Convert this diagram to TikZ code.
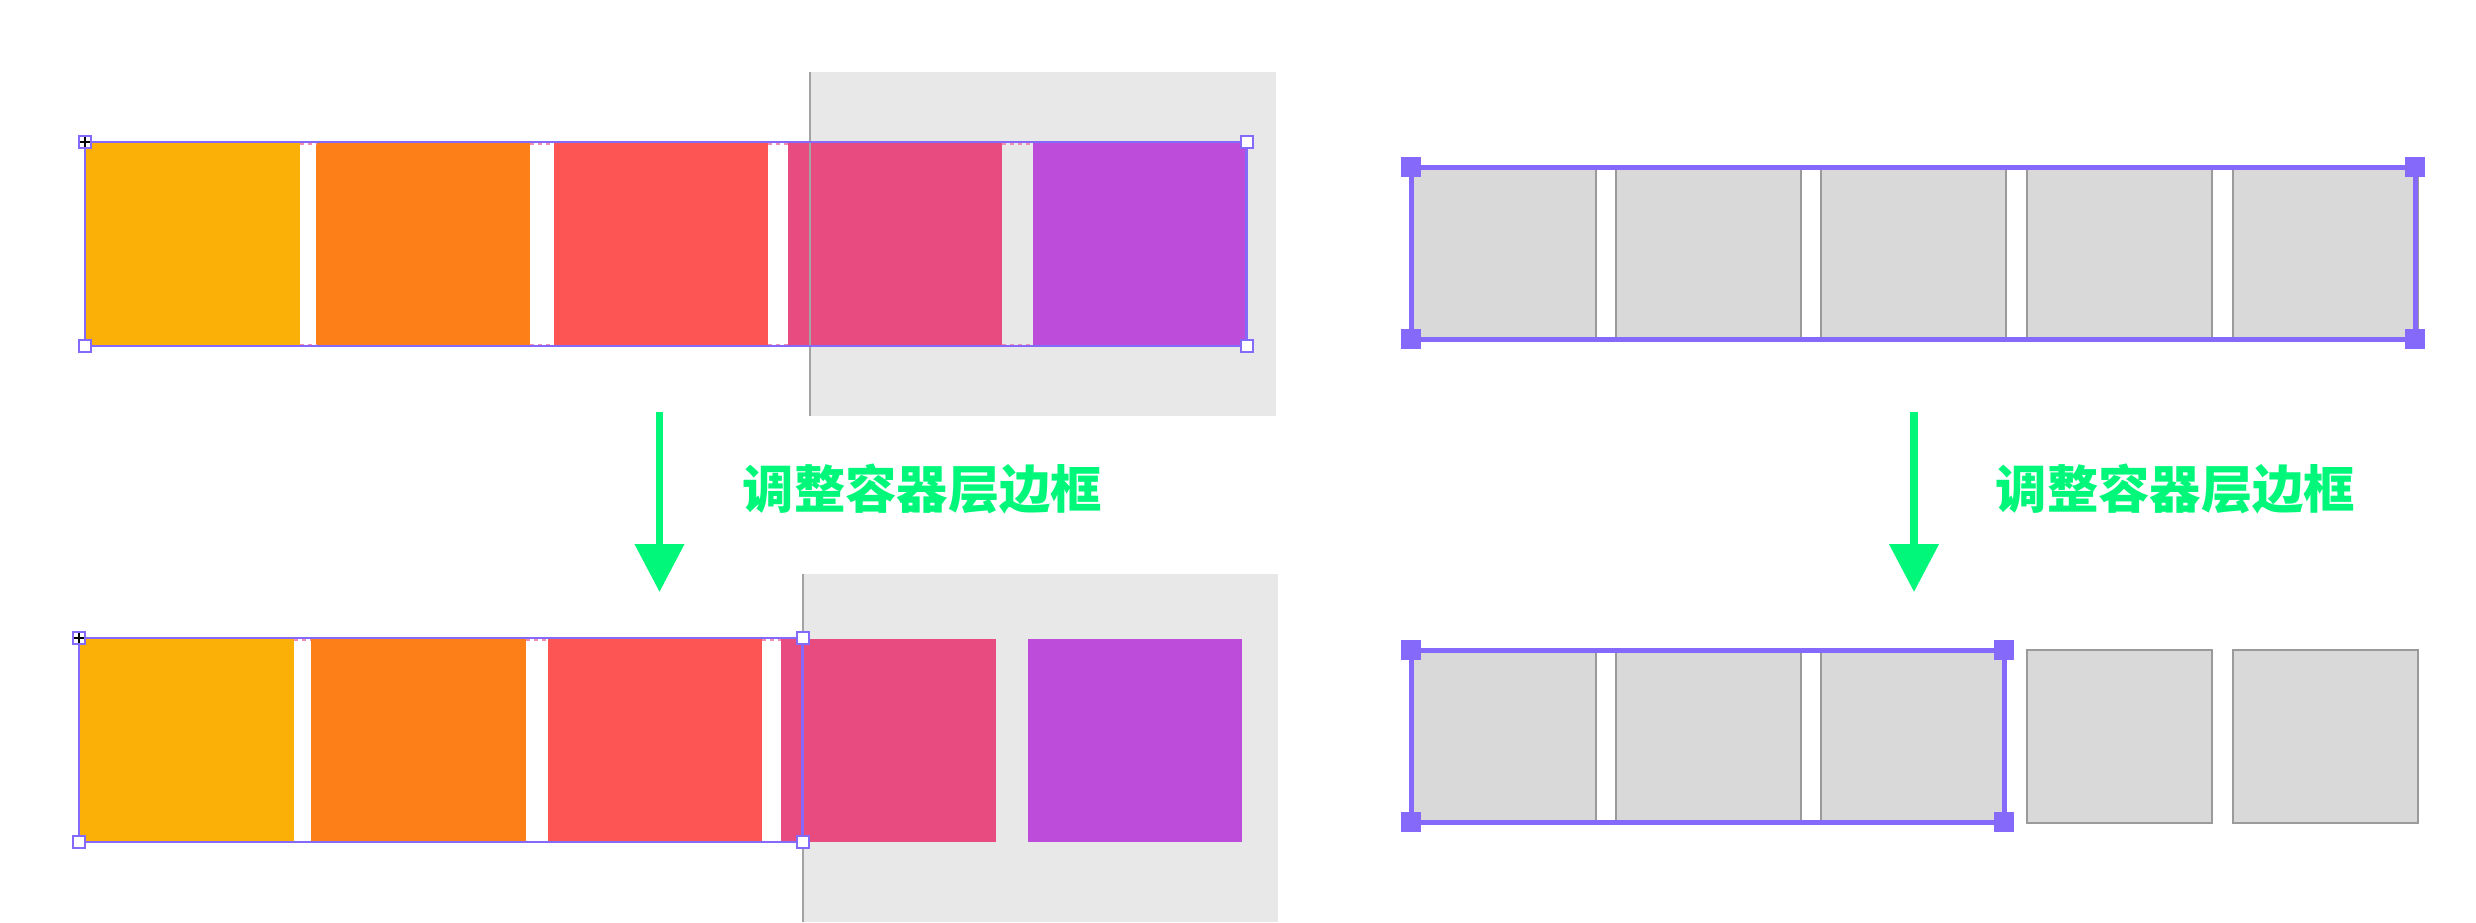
\documentclass[tikz,border=0pt]{standalone}
\usepackage{fontspec}
\newfontfamily\cjk{Noto Sans CJK SC}
\usetikzlibrary{arrows.meta}

\definecolor{selpurple}{HTML}{8569FA}
\definecolor{arrowgreen}{HTML}{00F77A}
\definecolor{bggray}{HTML}{E8E8E8}
\definecolor{linegray}{HTML}{A3A3A3}
\definecolor{boxgray}{HTML}{D9D9D9}
\definecolor{boxline}{HTML}{9A9A9A}
\definecolor{cyellow}{HTML}{FBB008}
\definecolor{corange}{HTML}{FD7F17}
\definecolor{cred}{HTML}{FD5454}
\definecolor{cpink}{HTML}{E84B80}
\definecolor{cviolet}{HTML}{BE4CDB}
\definecolor{gappink}{HTML}{F08CB4}

\tikzset{
  selframe/.style={draw=selpurple, line width=0.75pt},
  thickframe/.style={draw=selpurple, line width=1.5pt},
  handle/.style={draw=selpurple, fill=white, line width=0.6pt},
  solidhandle/.style={fill=selpurple},
  graybox/.style={draw=boxline, fill=boxgray, line width=0.45pt},
  gapmark/.style={draw=gappink, line width=0.6pt, dash pattern=on 1.2pt off 1.2pt},
  downarrow/.style={draw=arrowgreen, line width=2.3pt,
    -{Triangle[length=14.4pt,width=14.4pt]}},
  caption/.style={text=arrowgreen, font=\cjk\bfseries\fontsize{15.4pt}{16pt}\selectfont, inner sep=0pt}
}

\begin{document}
\begin{tikzpicture}[x=0.3pt, y=-0.3pt]

\useasboundingbox (0,0) rectangle (2476,922);

% left, before
\fill[bggray] (810,72) rectangle (1276,416);
\fill[cyellow] (86,143) rectangle (299.5,345);
\fill[corange] (316,143) rectangle (530,345);
\fill[cred] (553.5,143) rectangle (767.5,345);
\fill[cpink] (787.5,143) rectangle (1001.5,345);
\fill[cviolet] (1033,143) rectangle (1246.5,345);
\foreach \ga/\gb in {299.5/316, 530/553.5, 767.5/787.5, 1001.5/1033}{
\draw[gapmark] (\ga,143.5) -- (\gb,143.5);
\draw[gapmark] (\ga,344.5) -- (\gb,344.5);
}
\draw[linegray, line width=0.45pt] (810,72) -- (810,416);
\draw[selframe] (85,142) rectangle (1246.5,346);

% left, after
\fill[bggray] (803,574) rectangle (1278,922);
\fill[cyellow] (79.5,639) rectangle (294,842);
\fill[corange] (310.5,639) rectangle (525.5,842);
\fill[cred] (548,639) rectangle (761.5,842);
\fill[cpink] (781,639) rectangle (996,842);
\fill[cviolet] (1027.5,639) rectangle (1241.5,842);
\foreach \ga/\gb in {294/310.5, 525.5/548, 761.5/781}{
\draw[gapmark] (\ga,639.5) -- (\gb,639.5);
\draw[gapmark] (\ga,841.5) -- (\gb,841.5);
}
\draw[linegray, line width=0.45pt] (803,574) -- (803,922);
\draw[selframe] (79,638) rectangle (802.5,842);

\foreach \hx/\hy in {85/142, 1246.5/142, 85/346, 1246.5/346, 79/638, 802.5/638, 79/842, 802.5/842}{
\draw[handle] (\hx-6,\hy-6) rectangle (\hx+6,\hy+6);
}
\foreach \hx/\hy in {85/142, 79/638}{
\draw[black, line width=0.5pt] (\hx-5,\hy) -- (\hx+5,\hy) (\hx,\hy-5) -- (\hx,\hy+5);
}

% right, before
\foreach \bx in {1411, 1616, 1821, 2027, 2233}{
\draw[graybox] (\bx,167) rectangle (\bx+185,339);
}
\draw[thickframe] (1411,167) rectangle (2415,339);

% right, after
\foreach \bx in {1411, 1616, 1821, 2027, 2233}{
\draw[graybox] (\bx,650) rectangle (\bx+185,823);
}
\draw[thickframe] (1411,650) rectangle (2004,822);

\foreach \hx/\hy in {1411/167, 2415/167, 1411/339, 2415/339, 1411/650, 2004/650, 1411/822, 2004/822}{
\fill[solidhandle] (\hx-10,\hy-10) rectangle (\hx+10,\hy+10);
}

% arrows and captions
\coordinate (lfrom) at (659.5,412);
\coordinate (lto) at (659.5,592);
\coordinate (rfrom) at (1914,412);
\coordinate (rto) at (1914,592);
\draw[downarrow] (lfrom) -- (lto);
\draw[downarrow] (rfrom) -- (rto);

\node[caption] (lcap) at (922.5,489) {调整容器层边框};
\node[caption] (rcap) at (2175.5,489) {调整容器层边框};
\end{tikzpicture}
\end{document}
